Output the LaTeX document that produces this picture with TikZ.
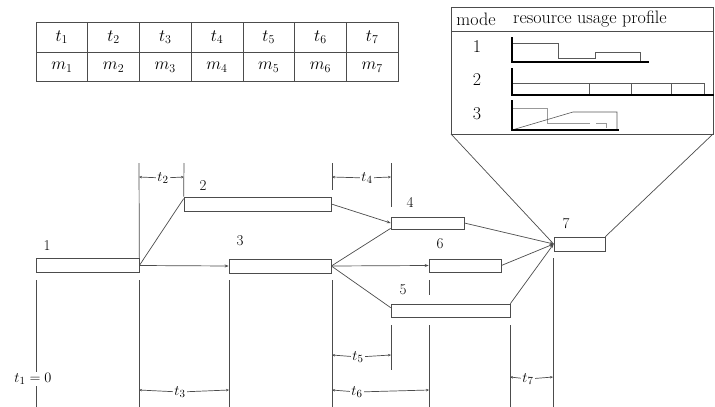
\documentclass[tikz,border=0pt]{standalone}
\usepackage{fontspec}
\usetikzlibrary{arrows.meta,calc}
\begin{document}
\begin{tikzpicture}[x=1pt,y=-1pt,
  every node/.style={font=\fontsize{15}{17}\selectfont},
  ln/.style={draw=black!70,line width=0.7pt},
  job/.style={ln,rectangle,inner sep=0pt,fill=white},
  con/.style={ln},
  arr/.style={ln,-{Stealth[length=4pt,width=3pt]}},
  dim/.style={ln,-{Stealth[length=3pt,width=2.5pt]},shorten >=0pt},
  dlab/.style={inner sep=1.5pt},
  hdr/.style={font=\fontsize{18}{20}\selectfont},
  cell/.style={font=\fontsize{17}{19}\selectfont},
  axis/.style={draw=black,line width=1.8pt},
  prof/.style={draw=black!65,line width=0.6pt},
  lprof/.style={draw=black!40,line width=0.6pt}]
\useasboundingbox (0,0) rectangle (715,407);
\fill[white] (0,0) rectangle (715,407);

% ---------- table ----------
\draw[ln] (36,22) rectangle (398,81);
\draw[ln] (36,52) -- (398,52);
\foreach \i in {1,...,6} {
  \draw[ln] ({36+\i*51.714},22) -- ({36+\i*51.714},81);
}
\foreach \i in {1,...,7} {
  \node[cell] (t\i) at ({36+(\i-0.5)*51.714},37) {$t_{\i}$};
  \node[cell] (m\i) at ({36+(\i-0.5)*51.714},67) {$m_{\i}$};
}

% ---------- mode box ----------
\draw[ln] (451,7) rectangle (713,134);
\draw[ln] (451,31) -- (713,31);
\node[hdr] (hmode) at (476,19) {mode};
\node[hdr] (hprof) at (590,19) {resource usage profile};
\node[hdr] (mo1) at (477,47) {1};
\node[hdr] (mo2) at (477,80) {2};
\node[hdr] (mo3) at (477,114) {3};
% profile 1
\draw[prof] (512,43) -- (558,43) -- (558,58) -- (595,58) -- (595,52) -- (640,52) -- (640,62);
\draw[axis] (512,37) -- (512,62) -- (649,62);
% profile 2
\draw[prof] (512,83) -- (704,83) -- (704,95);
\foreach \x in {589,631,671} \draw[prof] (\x,83) -- (\x,95);
\draw[axis] (512,68) -- (512,95) -- (714,95);
% profile 3
\draw[lprof] (512,108) -- (547,108) -- (547,123) -- (590,123);
\draw[lprof] (596,123) -- (606,123) -- (606,128);
\draw[prof] (512,130) -- (573,112) -- (617,112) -- (617,130);
\draw[axis] (512,100) -- (512,130) -- (619,130);

% ---------- jobs ----------
\node[job,minimum width=103pt,minimum height=14pt] (b1) at (87.5,265.5) {};
\node[job,minimum width=147pt,minimum height=14pt] (b2) at (257.5,204) {};
\node[job,minimum width=102pt,minimum height=14pt] (b3) at (280,266) {};
\node[job,minimum width=73pt,minimum height=12pt] (b4) at (427.5,223) {};
\node[job,minimum width=72pt,minimum height=13pt] (b6) at (465,265.5) {};
\node[job,minimum width=119pt,minimum height=13pt] (b5) at (450.5,310.5) {};
\node[job,minimum width=51pt,minimum height=14pt] (b7) at (579.5,244) {};

\node (l1) at (47,246) {1};
\node (l2) at (203,186) {2};
\node (l3) at (240,241) {3};
\node (l4) at (410,202) {4};
\node (l6) at (440,244) {6};
\node (l5) at (403,290) {5};
\node (l7) at (566,224) {7};

% zoom lines from mode box to job 7
\coordinate (mbl) at (451,134);
\coordinate (mbr) at (713,134);
\draw[ln] (mbl) -- (b7.west);
\draw[ln] (mbr) -- (b7.north east);

% precedence arcs
\draw[con] (b1.east) -- ($(b2.north west)+(0,2)$);
\draw[arr] (b1.east) -- (b3.west);
\draw[arr] (b2.east) -- (b4.west);
\draw[con] (b3.east) -- ($(b4.south west)+(0,-1)$);
\draw[arr] (b3.east) -- (b6.west);
\draw[con] (b3.east) -- ($(b5.north west)+(0,4)$);
\draw[arr] (b4.east) -- (b7.west);
\draw[arr] (b6.east) -- (b7.west);
\draw[arr] (b5.north east) -- (b7.west);

% ---------- dimension lines ----------
\coordinate (a139) at (139,163);
\draw[ln] (a139) -- (b1.north east);
\draw[ln] (139,280) -- (139,407);
\coordinate (a184) at (184,163);
\draw[ln] (a184) -- (b2.north west);
\draw[ln] (332,163) -- (332,190);
\draw[ln] (391,163) -- (391,207);
\draw[ln] (36,280) -- (36,407);
\draw[ln] (229,280) -- (229,407);
\draw[ln] (332,280) -- (332,407);
\draw[ln] (391,325) -- (391,370);
\draw[ln] (429,280) -- (429,295);
\draw[ln] (429,325) -- (429,407);
\draw[ln] (510,325) -- (510,407);
\draw[ln] (553,258) -- (553,407);

% t2
\coordinate (d2a) at (139,177); \coordinate (d2b) at (184,177);
\node[dlab] (lt2) at (163,178) {$t_2$};
\draw[dim] (lt2) -- (d2a); \draw[dim] (lt2) -- (d2b);
% t4
\coordinate (d4a) at (332,177); \coordinate (d4b) at (391,177);
\node[dlab] (lt4) at (367,178) {$t_4$};
\draw[dim] (lt4) -- (d4a); \draw[dim] (lt4) -- (d4b);
% t3
\coordinate (d3a) at (139,390); \coordinate (d3b) at (229,390);
\node[dlab] (lt3) at (180,392) {$t_3$};
\draw[dim] (lt3) -- (d3a); \draw[dim] (lt3) -- (d3b);
% t5
\coordinate (d5a) at (332,355); \coordinate (d5b) at (391,355);
\node[dlab] (lt5) at (358,357) {$t_5$};
\draw[dim] (lt5) -- (d5a); \draw[dim] (lt5) -- (d5b);
% t6
\coordinate (d6a) at (332,390); \coordinate (d6b) at (429,390);
\node[dlab] (lt6) at (357,392) {$t_6$};
\draw[dim] (lt6) -- (d6a); \draw[dim] (lt6) -- (d6b);
% t7
\coordinate (d7a) at (510,377); \coordinate (d7b) at (553,377);
\node[dlab] (lt7) at (528,379) {$t_7$};
\draw[dim] (lt7) -- (d7a); \draw[dim] (lt7) -- (d7b);
% t1 = 0
\node[fill=white,inner sep=1pt] (lt1) at (33,379) {$t_1=0$};
\end{tikzpicture}
\end{document}
